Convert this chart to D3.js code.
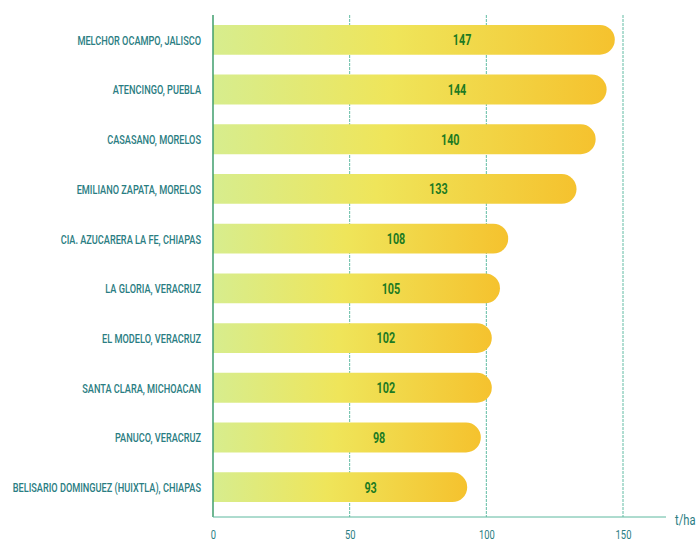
<!DOCTYPE html>
<html>
<head>
<meta charset="utf-8">
<script src="https://cdn.jsdelivr.net/npm/d3@7"></script>
<style>
  html, body { margin: 0; padding: 0; background: #ffffff; }
  svg { display: block; }
  .cond { font-family: Roboto, "DejaVu Sans", sans-serif; }
</style>
</head>
<body>
<svg id="chart" width="699" height="543"></svg>
<script>
// Sugar cane yield by mill (t/ha)
const mills = [
  "MELCHOR OCAMPO, JALISCO",
  "ATENCINGO, PUEBLA",
  "CASASANO, MORELOS",
  "EMILIANO ZAPATA, MORELOS",
  "CIA. AZUCARERA LA FE, CHIAPAS",
  "LA GLORIA, VERACRUZ",
  "EL MODELO, VERACRUZ",
  "SANTA CLARA, MICHOACAN",
  "PANUCO, VERACRUZ",
  "BELISARIO DOMINGUEZ (HUIXTLA), CHIAPAS"
];
const yields = [147, 144, 140, 133, 108, 105, 102, 102, 98, 93];
const xTicks = [0, 50, 100, 150];
const unitLabel = "t/ha";

const svg = d3.select("#chart");

const x = d3.scaleLinear().domain([0, 150]).range([213, 623]);
const y = d3.scaleBand().domain(mills).range([5, 522]).padding(0.4);
const axisY = 517;
const teal = "#2a7d82";

// horizontally squeezed text, anchored at (px, py)
function condensed(sel, sx) {
  return sel.attr("transform", d => `translate(${d.px},${d.py}) scale(${sx},1)`);
}

// bar gradient: lime on the left, warm yellow at the rounded end
const defs = svg.append("defs");
const grad = defs.append("linearGradient")
  .attr("id", "barGrad")
  .attr("x1", "0").attr("y1", "0").attr("x2", "1").attr("y2", "0");
grad.append("stop").attr("offset", "0").attr("stop-color", "#d7ed8e");
grad.append("stop").attr("offset", "0.45").attr("stop-color", "#efe55a");
grad.append("stop").attr("offset", "1").attr("stop-color", "#f5c22e");

// vertical grid lines
svg.append("g")
  .selectAll("line")
  .data(xTicks.slice(1))
  .join("line")
  .attr("x1", d => x(d)).attr("x2", d => x(d))
  .attr("y1", 15).attr("y2", axisY)
  .attr("stroke", "#62bca4")
  .attr("stroke-width", 1)
  .attr("stroke-dasharray", "3,1");

// bars with a rounded right end
const bh = y.bandwidth();
function barPath(v, top) {
  const x0 = x(0), x1 = x(v), r = bh / 2;
  return `M${x0},${top}H${x1 - r}A${r},${r} 0 0 1 ${x1 - r},${top + bh}H${x0}Z`;
}
svg.append("g")
  .selectAll("path")
  .data(mills)
  .join("path")
  .attr("d", (m, i) => barPath(yields[i], y(m)))
  .attr("fill", "url(#barGrad)");

// value labels inside the bars
const valueData = mills.map((m, i) => ({ v: yields[i], px: x(yields[i] * 0.62), py: y(m) + bh / 2 }));
svg.append("g")
  .selectAll("text")
  .data(valueData)
  .join("text")
  .attr("class", "cond")
  .call(condensed, 0.72)
  .attr("dy", "0.36em")
  .attr("text-anchor", "middle")
  .attr("font-size", 15)
  .attr("font-weight", "bold")
  .attr("fill", "#1d7a22")
  .text(d => d.v);

// category labels
const nameData = mills.map(m => ({ m, px: 201, py: y(m) + bh / 2 }));
svg.append("g")
  .selectAll("text")
  .data(nameData)
  .join("text")
  .attr("class", "cond")
  .call(condensed, 0.68)
  .attr("dy", "0.36em")
  .attr("text-anchor", "end")
  .attr("font-size", 13.5)
  .attr("font-weight", 500)
  .attr("fill", teal)
  .text(d => d.m);

// zero line and bottom axis
svg.append("line")
  .attr("x1", x(0)).attr("x2", x(0))
  .attr("y1", 15).attr("y2", axisY)
  .attr("stroke", "#3f9e6c").attr("stroke-width", 1.5);

const axis = d3.axisBottom(x).tickValues(xTicks).tickSize(0).tickPadding(13);
const ax = svg.append("g")
  .attr("transform", `translate(0,${axisY})`)
  .call(axis);
ax.select(".domain").remove();
ax.append("line")
  .attr("x1", x(0)).attr("x2", 666)
  .attr("stroke", "#5cb89e").attr("stroke-width", 1);
ax.selectAll(".tick text")
  .attr("class", "cond")
  .attr("font-size", 12.5)
  .attr("fill", teal)
  .attr("transform", "scale(0.75,1)")
  .attr("x", 0);

const unitData = [{ px: 675, py: axisY + 8 }];
svg.append("g")
  .selectAll("text")
  .data(unitData)
  .join("text")
  .attr("class", "cond")
  .call(condensed, 0.8)
  .attr("font-size", 14)
  .attr("fill", teal)
  .text(unitLabel);
</script>
</body>
</html>
